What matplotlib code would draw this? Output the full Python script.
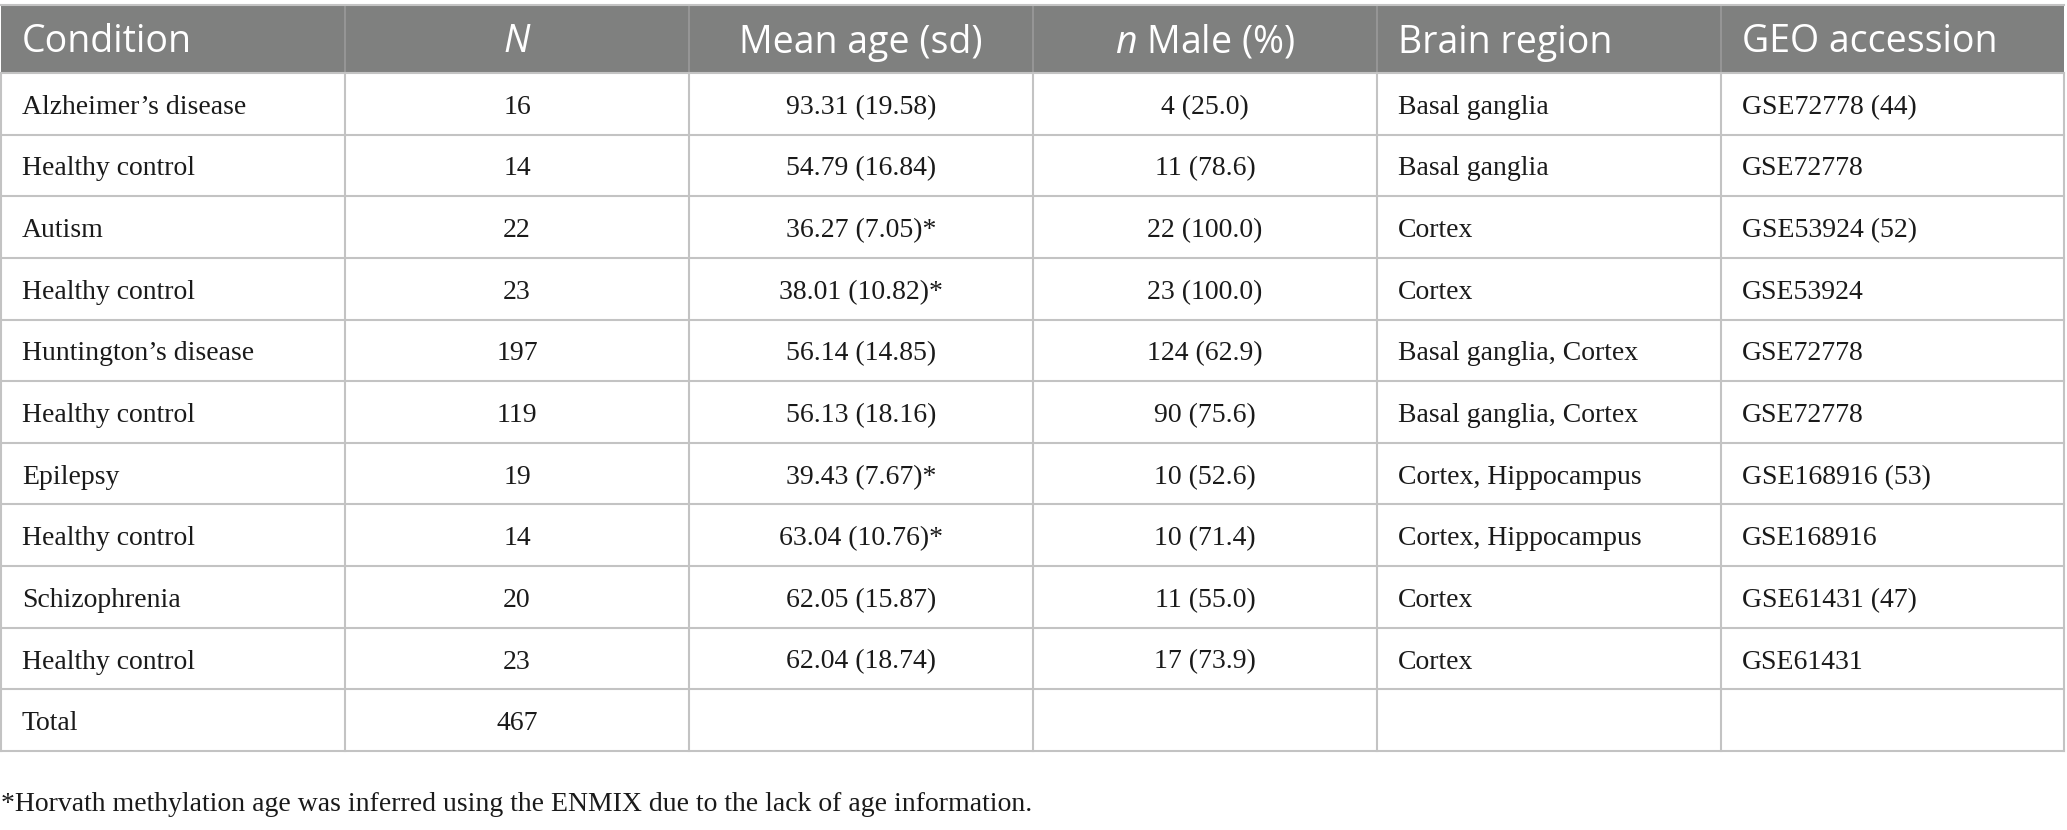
import matplotlib
matplotlib.use("Agg")
import matplotlib.pyplot as plt
from matplotlib.patches import Rectangle

# ---------------- data ----------------
headers = ["Condition", "N", "Mean age (sd)", "n Male (%)", "Brain region", "GEO accession"]
conditions = ["Alzheimer\u2019s disease", "Healthy control", "Autism", "Healthy control",
              "Huntington\u2019s disease", "Healthy control", "Epilepsy", "Healthy control",
              "Schizophrenia", "Healthy control"]
n_total = [16, 14, 22, 23, 197, 119, 19, 14, 20, 23]
mean_age = [93.31, 54.79, 36.27, 38.01, 56.14, 56.13, 39.43, 63.04, 62.05, 62.04]
sd_age = [19.58, 16.84, 7.05, 10.82, 14.85, 18.16, 7.67, 10.76, 15.87, 18.74]
age_inferred = [False, False, True, True, False, False, True, True, False, False]
n_male = [4, 11, 22, 23, 124, 90, 10, 10, 11, 17]
pct_male = [25.0, 78.6, 100.0, 100.0, 62.9, 75.6, 52.6, 71.4, 55.0, 73.9]
brain_region = ["Basal ganglia", "Basal ganglia", "Cortex", "Cortex",
                "Basal ganglia, Cortex", "Basal ganglia, Cortex",
                "Cortex, Hippocampus", "Cortex, Hippocampus", "Cortex", "Cortex"]
geo_accession = ["GSE72778", "GSE72778", "GSE53924", "GSE53924", "GSE72778",
                 "GSE72778", "GSE168916", "GSE168916", "GSE61431", "GSE61431"]
geo_ref = ["44", "", "52", "", "", "", "53", "", "47", ""]
total_label = "Total"
total_n = 467
footnote = "*Horvath methylation age was inferred using the ENMIX due to the lack of age information."

# ---------------- layout ----------------
plt.rcParams["mathtext.fontset"] = "custom"
plt.rcParams["mathtext.it"] = "Open Sans:italic"
plt.rcParams["mathtext.rm"] = "Open Sans"

W, H = 2067, 830
fig = plt.figure(figsize=(W / 100, H / 100), dpi=100)
ax = fig.add_axes([0, 0, 1, 1])
ax.set_xlim(0, W)
ax.set_ylim(H, 0)
ax.axis("off")

col_edges = [1, 345, 689, 1033, 1377, 1721, 2064]
head_top, head_bot = 5, 73
n_rows = len(conditions) + 1
row_h = (751 - head_bot) / n_rows
row_edges = [head_bot + i * row_h for i in range(n_rows + 1)]

header_color = "#7f807f"
grid_color = "#c3c3c3"
text_color = "#1a1a1a"
serif = ["Liberation Serif", "DejaVu Serif"]
sans = ["Open Sans", "DejaVu Sans"]
body_fs = 20
head_fs = 27
pad = 21

# header background
ax.add_patch(Rectangle((col_edges[0], head_top), col_edges[-1] - col_edges[0],
                       head_bot - head_top, facecolor=header_color, edgecolor="none", zorder=1))
for x in col_edges[1:-1]:
    ax.plot([x, x], [head_top, head_bot], color="#9a9a9a", lw=1.2, zorder=2)
ax.plot([col_edges[0], col_edges[-1]], [head_top, head_top], color=grid_color, lw=1.5, zorder=2)

# header text
align = ["left", "center", "center", "center", "left", "left"]
hy = 52.5
for j, h in enumerate(headers):
    x = col_edges[j] + pad if align[j] == "left" else (col_edges[j] + col_edges[j + 1]) / 2
    if h == "N":
        txt = r"$\mathit{N}$"
    elif h.startswith("n "):
        txt = r"$\mathit{n}$" + " Male (%)"
    else:
        txt = h
    ax.text(x, hy, txt, color="white", fontsize=head_fs, family=sans,
            ha=align[j], va="baseline", zorder=3)

# body grid
for y in row_edges:
    ax.plot([col_edges[0], col_edges[-1]], [y, y], color=grid_color, lw=1.5, zorder=2)
for x in col_edges:
    ax.plot([x, x], [row_edges[0], row_edges[-1]], color=grid_color, lw=1.5, zorder=2)

def cell(j, i, txt):
    y = (row_edges[i] + row_edges[i + 1]) / 2 + 10
    if align[j] == "left":
        x, ha = col_edges[j] + pad, "left"
    else:
        x, ha = (col_edges[j] + col_edges[j + 1]) / 2, "center"
    ax.text(x, y, txt, fontsize=body_fs, family=serif, color=text_color,
            ha=ha, va="baseline", zorder=3)

for i in range(len(conditions)):
    cell(0, i, conditions[i])
    cell(1, i, str(n_total[i]))
    cell(2, i, f"{mean_age[i]:.2f} ({sd_age[i]:.2f})" + ("*" if age_inferred[i] else ""))
    cell(3, i, f"{n_male[i]} ({pct_male[i]:.1f})")
    cell(4, i, brain_region[i])
    cell(5, i, geo_accession[i] + (f" ({geo_ref[i]})" if geo_ref[i] else ""))
cell(0, len(conditions), total_label)
cell(1, len(conditions), str(total_n))

ax.text(1, 811, footnote, fontsize=body_fs, family=serif, color=text_color,
        ha="left", va="baseline")

fig.savefig("out.png", dpi=100, facecolor="white")
